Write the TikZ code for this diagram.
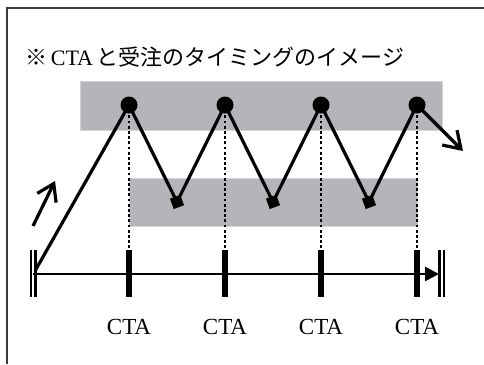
\documentclass[tikz,border=0pt]{standalone}
\usepackage{fontspec}
\setmainfont{Liberation Serif}
\newfontfamily\cjk{Noto Sans CJK JP}
\usetikzlibrary{arrows.meta}
\definecolor{band}{RGB}{180,181,185}
\definecolor{frame}{RGB}{60,60,60}
\tikzset{
  bandbox/.style={fill=band,draw=band!60!white,line width=0.8pt},
  dotnode/.style={circle,fill=black,inner sep=0pt,minimum size=17pt},
  sqnode/.style={rectangle,fill=black,inner sep=0pt,minimum size=11pt,rotate=20},
  ticknode/.style={rectangle,fill=black,inner sep=0pt,minimum width=6.5pt,minimum height=47pt},
  zig/.style={line width=3.2pt,line join=miter},
  dotline/.style={line width=2.8pt,dash pattern=on 2.8pt off 2.4pt},
  bar/.style={line width=2.8pt},
  lbl/.style={font=\fontsize{23}{25}\selectfont,inner sep=0pt},
  barb/.style={-{Straight Barb[length=16pt,width=21pt]}}
}
\begin{document}
\begin{tikzpicture}[x=1pt,y=-1pt]
\useasboundingbox (0,0) rectangle (484,364);
% frame
\draw[frame,line width=1.8pt] (7,364) -- (7,8) -- (484,8);
% title
\node[anchor=west,inner sep=0pt,font=\fontsize{22}{24}\selectfont] (title) at (25,57)
  {{\cjk ※}\,CTA\,{\cjk と受注のタイミングのイメージ}};
% bands
\path[bandbox] (80,81) rectangle (442,130);
\path[bandbox] (129,178) rectangle (417,226);
% ticks
\node[ticknode] (t1) at (129,273.5) {};
\node[ticknode] (t2) at (225,273.5) {};
\node[ticknode] (t3) at (321,273.5) {};
\node[ticknode] (t4) at (417,273.5) {};
% dots and squares
\node[dotnode] (d1) at (129,105) {};
\node[dotnode] (d2) at (225,105) {};
\node[dotnode] (d3) at (321,105) {};
\node[dotnode] (d4) at (417,105) {};
\node[sqnode] (s1) at (177,202) {};
\node[sqnode] (s2) at (273,202) {};
\node[sqnode] (s3) at (369,202) {};
% dotted verticals
\foreach \i in {1,2,3,4} \draw[dotline] (d\i.center) -- (t\i.north);
% axis
\coordinate (a0) at (33,274);
\coordinate (a1) at (439,274);
\draw[line width=2.7pt,-{Triangle[length=14pt,width=14pt]}] (a0) -- (a1);
\draw[bar] (31,250) -- (31,297);
\draw[bar] (35.5,250) -- (35.5,297);
\draw[bar] (439.5,250) -- (439.5,297);
\draw[bar] (444,250) -- (444,297);
% zigzag
\coordinate (st) at (35,271);
\coordinate (en) at (463,151);
\draw[zig] (st) -- (d1.center) -- (s1.center) -- (d2.center) -- (s2.center) -- (d3.center) -- (s3.center) -- (d4.center);
\draw[zig,barb] (d4.center) -- (en);
% small arrow
\coordinate (sa0) at (33,226);
\coordinate (sa1) at (55,181);
\draw[zig,barb] (sa0) -- (sa1);
% labels
\node[lbl] (c1) at (129,327) {CTA};
\node[lbl] (c2) at (225,327) {CTA};
\node[lbl] (c3) at (321,327) {CTA};
\node[lbl] (c4) at (417,327) {CTA};
\end{tikzpicture}
\end{document}
